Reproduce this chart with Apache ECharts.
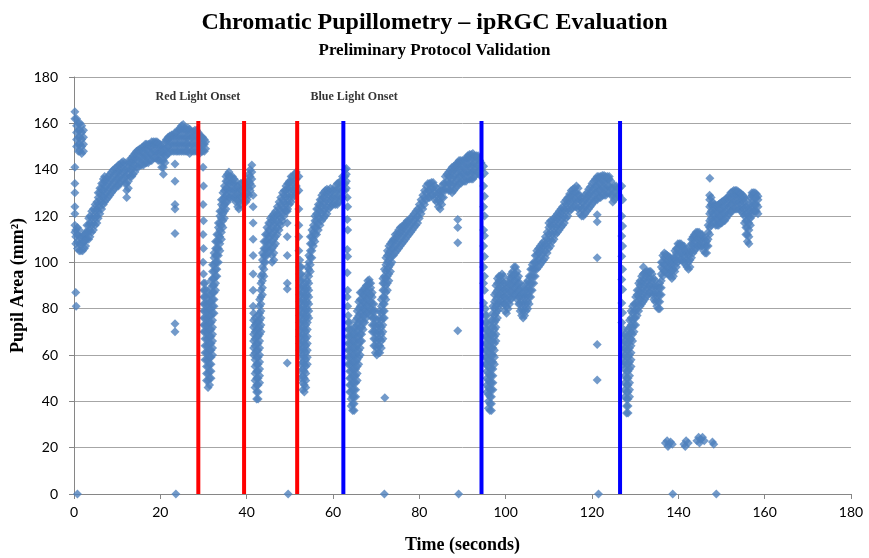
<!DOCTYPE html>
<html>
<head>
<meta charset="utf-8">
<script src="https://cdn.jsdelivr.net/npm/echarts@6/dist/echarts.min.js"></script>
<style>html,body{margin:0;padding:0;background:#fff}#c{width:869px;height:558px}</style>
</head>
<body>
<div id="c"></div>
<script>
// ---------------- DATA ----------------
// each entry: [time (s), [pupil area values (mm²) observed at that time]]
const xTicks = { min: 0, max: 180, step: 20 };
const yTicks = { min: 0, max: 180, step: 20 };

const redOnsets = [28.8, 39.4, 51.7];
const blueOnsets = [62.4, 94.4, 126.5];
const onsetLineTop = 161;
const annotations = [['Red Light Onset', 28.7, 171.5], ['Blue Light Onset', 64.9, 171.5]];

const initialPhase = [
  [0.2,[165,162,141,134,130,124,121,116,113]],[0.4,[87,108,111,114]],[0.5,[81]],
  [0.6,[150,153,156,159,162]],[0.8,[106,109,112,115]],[1.0,[148,151,154,157,160]],[1.2,[105,108,111,114]],
  [1.4,[148,151,154,157,160]],[1.6,[105,108,111]],[1.8,[147,150,153,156,159]],[2.0,[105,108,111]],
  [2.2,[148,151,154,157]],[2.4,[106,109,112]],[2.7,[107,110,113]]
];
const adaptationRise = [
  [3.0,[110,113,116]],[3.4,[110,113,116,119]],[3.7,[111,114,117,120]],[4.1,[113,116,119,122]],[4.5,[114,117,120,123]],
  [4.9,[116,119,122,125]],[5.3,[117,120,123,126]],[5.6,[119,122,125,128,130]],[6.0,[121,124,127,130,132]],
  [6.4,[123,126,129,132,134]],[6.8,[125,128,131,134,136]],[7.1,[126,129,132,135,137]],[7.5,[127,130,133,136]],
  [7.9,[128,131,134,137]],[8.3,[129,132,135,138]],[8.7,[130,133,136,139]],[9.1,[131,134,137,140]],
  [9.5,[132,135,138,140.5]],[9.9,[133,136,139,141]],[10.3,[133,136,139,142]],[10.6,[134,137,140,142]],
  [11.0,[135,138,141,143]],[11.4,[136,139,142,143.5]],[11.8,[134,137,140,143]],[12.2,[128,131,134,137,140]],
  [12.6,[132,135,138,141,143]],[13.0,[137,140,143,144.5]],[13.4,[137,140,143,145]],[13.7,[138,141,144,146]],
  [14.1,[139,142,145,147]],[14.5,[141,144,147,148]],[14.9,[141,144,147,148.5]],[15.3,[142,145,148,149]],
  [15.7,[142,145,148,149.5]],[16.1,[142,145,148,150]],[16.5,[143,146,149,151]],[16.8,[143,146,149,151]],
  [17.2,[143,146,149,151]],[17.6,[144,147,150,151]],[18.0,[144,147,150,152]],[18.4,[145,148,151,152]],
  [18.8,[145,148,151,152]],[19.2,[145,148,151,152]],[19.5,[144,147,150,151.5]],[19.9,[144,147,150,151]],
  [20.3,[141,144,147,150]],[20.7,[138,141,144,147,149]],[21.1,[143,146,149,152]],[21.4,[146,149,152,153]],
  [21.8,[147,150,153,154]],[22.2,[148,151,154,154.5]],[22.6,[148,151,154,155]],[23.0,[148,151,154,155]],
  [23.4,[148,151,154,156]],[23.8,[148,151,154,156]],[24.1,[148,151,154,157]],[24.5,[148,151,154,157,158]],
  [24.9,[148,151,154,157,159]],[25.3,[148,151,154,157,159.5]],[25.7,[148,151,154,157,158]],[26.0,[148,151,154,157]],
  [26.4,[148,151,154,157,158]],[26.8,[147,150,153,156,157.5]],[27.2,[148,151,154,156]],[27.6,[148,151,154,156.5]],
  [28.0,[148,151,154,157]],[28.4,[148,151,154,157]],[28.8,[148,151,154,156]],[29.1,[147,150,153,155]],
  [29.5,[148,151,154]],[29.8,[148,151,154]],[30.2,[148,151,153]],[30.5,[149,152]]
];
const redResponse1 = [
  [29.9,[141,125,112,100]],[30.0,[133,118,106,95]],
  [30.05,[70,73,76,79,82,85,88,91]],[30.35,[58,61,64,67,70,73,76,79,82,85,88,91]],
  [30.7,[49,52,55,58,61,64,67,70,73,76,79,82,85,88]],[31.05,[46,49,52,55,58,61,64,67,70,73,76,79,82]],
  [31.4,[47,50,53,56,59,62,65,68,71,74,77,80,83,86]],[31.75,[50,53,56,59,62,65,68,71,74,77,80,83,86,89,92]],
  [32.1,[60,63,66,69,72,75,78,81,84,87,90,93,96,99]],[32.45,[78,81,84,87,90,93,96,99,102,104]],
  [32.8,[88,91,94,97,100,103,106,109]],[33.1,[94,97,100,103,106,109,112]],[33.45,[100,103,106,109,112,115,117]],
  [33.8,[105,108,111,114,117,120,122]],[34.15,[110,113,116,119,122,125,127]],[34.5,[115,118,121,124,127,130]],
  [34.85,[119,122,125,128,131,133]],[35.2,[123,126,129,132,135,137]],[35.55,[126,129,132,135,138]],
  [35.9,[128,131,134,137,139]],[36.3,[128,131,134,137]],[36.7,[128,131,134,137]],[37.1,[128,131,134,136]],
  [37.5,[126,129,132,135]],[37.9,[124,127,130,133]],[38.2,[123,126,129,132]],[38.6,[125,128,131,134]],
  [39.0,[128,131,134]],[39.4,[129,132,135]]
];
const redResponse2 = [
  [39.8,[126,129,132,134]],[40.1,[127,130,133,135]],[40.5,[129,132,135,138]],[40.8,[131,134,137,140]],
  [41.2,[133,136,139,142]],[41.5,[129,124,117,110,103,95,88,81]],
  [41.6,[60,63,66,69,72,75,78]],[41.95,[46,49,52,55,58,61,64,67,70,73,76]],
  [42.3,[41,44,47,50,53,56,59,62,65,68,71,74]],[42.65,[41,44,47,50,53,56,59,62,65,68,71,74,77]],
  [43.0,[48,51,54,57,60,63,66,69,72,75,78,81,84]],[43.3,[70,73,76,79,82,85,88,91,94]],
  [43.65,[86,89,92,95,98,101,104]],[44.0,[94,97,100,103,106,109]],[44.35,[100,103,106,109,112]],
  [44.7,[103,106,109,112,115]],[45.1,[105,108,111,114,117]],[45.5,[105,108,111,114,117,119]],
  [45.9,[100,103,106,109,112,115,118,120]],[46.3,[101,104,107,110,113,116,119,121]],[46.7,[108,111,114,117,120,122]],
  [47.1,[112,115,118,121,124]],[47.5,[114,117,120,123,126]],[47.9,[116,119,122,125,128]],[48.3,[118,121,124,127,130]],
  [48.7,[120,123,126,129,131]],[49.1,[122,125,128,131,133]],[49.5,[123,126,129,132,134]],[49.9,[125,128,131,134,135]],
  [50.3,[126,129,132,135,137]],[50.7,[128,131,134,137]],[51.1,[129,132,135,138]],[51.5,[130,133,136,139]]
];
const redResponse3 = [
  [52.1,[137,131,123,116,111,105]],
  [52.3,[62,65,68,71,74,77,80,83,86,89,92,95,98,101]],[52.65,[50,53,56,59,62,65,68,71,74,77,80,83,86,89,92,95,98]],
  [53.0,[45,48,51,54,57,60,63,66,69,72,75,78,81,84,87,90,93]],[53.35,[44,47,50,53,56,59,62,65,68,71,74,77,80,83,86,89]],
  [53.7,[46,49,52,55,58,61,64,67,70,73,76,79,82,85,88,91]],[54.05,[56,59,62,65,68,71,74,77,80,83,86,89,92,95,98]],
  [54.4,[76,79,82,85,88,91,94,97,100,103]],[54.75,[96,99,102,105,108,111]],[55.1,[102,105,108,111,114]],
  [55.45,[107,110,113,116]],[55.8,[109,112,115,118,120]],[56.2,[112,115,118,121,123]],[56.6,[114,117,120,123,125]],
  [57.0,[116,119,122,125,127]],[57.4,[118,121,124,127,129]],[57.8,[119,122,125,128,130]],[58.2,[120,123,126,129,131]],
  [58.6,[121,124,127,130,131.5]],[59.0,[123,126,129,131]],[59.4,[124,127,130,132]],[59.8,[125,128,131]],
  [60.2,[125,128,131]],[60.6,[125,128,131,133]],[61.0,[125,128,131,134]],[61.4,[126,129,132,134.5]],
  [61.8,[127,130,133,135]],[62.2,[128,131,134,137]]
];
const blueResponse1 = [
  [62.8,[131,134,137,140]],[63.1,[132,135,138,140.5]],
  [63.3,[128,118.5,105.5,95.5,85]],[63.4,[124,114,102.5,88,81]],
  [63.5,[56,59,62,65,68,71,74,77]],[63.85,[44,47,50,53,56,59,62,65,68,71,74]],
  [64.2,[38,41,44,47,50,53,56,59,62,65,68,71]],[64.55,[36,39,42,45,48,51,54,57,60,63,66,69]],
  [64.9,[36,39,42,45,48,51,54,57,60,63,66,69,72]],[65.25,[42,45,48,51,54,57,60,63,66,69,72,75]],
  [65.6,[49,52,55,58,61,64,67,70,73,76,79]],[65.95,[56,59,62,65,68,71,74,77,80,83]],
  [66.3,[60,63,66,69,72,75,78,81,84,87]],[66.65,[66,69,72,75,78,81,84,87]],[67.0,[71,74,77,80,83,86,88]],
  [67.35,[74,77,80,83,86,89]],[67.7,[76,79,82,85,88,90]],[68.05,[78,81,84,87,90,92]],[68.4,[79,82,85,88,91,92.5]],
  [68.75,[77,80,83,86,89,91]],[69.1,[70,73,76,79,82,85,87]],[69.45,[64,67,70,73,76,79,82]],
  [69.8,[61,64,67,70,73,76,79]],[70.15,[60,63,66,69,72,75]],[70.5,[61,64,67,70,73]],[70.85,[61,64,67,70,73,76,79]],
  [71.2,[63,66,69,72,75,78,81,84]],[71.55,[67,70,73,76,79,82,85,88,91,93]],[71.9,[76,79,82,85,88,91,94,97]],
  [72.25,[84,87,90,93,96,99,102]],[72.6,[88,91,94,97,100,103,105]],[72.95,[92,95,98,101,104,107]],
  [73.3,[96,99,102,105,108]],[73.65,[100,103,106,109]],[74.0,[103,106,109,110]],[74.4,[104,107,110,112]],
  [74.8,[105,108,111,112.5]],[75.2,[106,109,112,114]],[75.6,[107,110,113,115]],[76.0,[108,111,114,115.5]],
  [76.4,[109,112,115,116]],[76.8,[110,113,116,117]],[77.2,[111,114,117,118]],[77.6,[112,115,118]],
  [78.0,[113,116,119]],[78.4,[114,117,120]],[78.8,[115,118,121]],[79.2,[116,119,122]],[79.6,[117,120,123]],
  [80.0,[119,122,125]],[80.4,[121,124,127]],[80.8,[123,126,129]],[81.2,[125,128,131]],[81.6,[127,130,133]],
  [82.0,[128,131,134]],[82.4,[128,131,134]],[82.8,[129,132,134.5]],[83.2,[129,132,134.5]],[83.6,[127,130,133]],
  [84.0,[126,129,132]],[84.4,[124,127,130]],[84.8,[123,126,129,131]],[85.2,[125,128,131,133]],[85.6,[128,131,134]],
  [86.0,[131,134,137]],[86.4,[132,135,138]],[86.8,[131,134,137,139]],[87.2,[131,134,137,140]],
  [87.6,[130,133,136,139,141]],[88.0,[131,134,137,140,141.5]],[88.4,[132,135,138,141,142]],
  [88.8,[133,136,139,142,143]],[89.2,[134,137,140,143,144]],[89.6,[134,137,140,143,144]],[90.0,[135,138,141,144]],
  [90.4,[135,138,141,144]],[90.8,[135,138,141,144,145]],[91.2,[136,139,142,145,146]],[91.6,[136,139,142,145,146.5]],
  [92.0,[136,139,142,145,146.5]],[92.4,[136,139,142,145,147]],[92.8,[137,140,143,146]],[93.2,[138,141,144,146]],
  [93.6,[139,142,145,146]],[94.0,[138,141,144]],[94.3,[137,140,143]]
];
const blueResponse2 = [
  [94.9,[141.5,133,124,114,107,98,91,82.5]],[95.1,[138.5,128.5,120,111.5,102.5,94,88]],
  [95.3,[56,59,62,65,68,71,74,77,80]],[95.65,[44,47,50,53,56,59,62,65,68,71,74,77]],
  [96.0,[37,40,43,46,49,52,55,58,61,64,67,70,73]],[96.35,[36,39,42,45,48,51,54,57,60,63,66,69]],
  [96.7,[36,39,42,45,48,51,54,57,60,63,66,69,72,75]],[97.05,[45,48,51,54,57,60,63,66,69,72,75,78,81]],
  [97.4,[56,59,62,65,68,71,74,77,80,83,86]],[97.75,[66,69,72,75,78,81,84,87,90]],[98.1,[76,79,82,85,88,91,93]],
  [98.45,[80,83,86,89,92,94]],[98.8,[82,85,88,91,94]],[99.15,[83,86,89,92,95]],[99.5,[82,85,88,91,94]],
  [99.85,[79,82,85,88,91]],[100.2,[78,81,84,87,89]],[100.55,[80,83,86,89,91]],[100.9,[82,85,88,91,93]],
  [101.25,[84,87,90,93,95]],[101.6,[85,88,91,94,96]],[101.95,[86,89,92,95,98]],[102.3,[86,89,92,95,98]],
  [102.65,[84,87,90,93,96]],[103.0,[82,85,88,91,94]],[103.35,[79,82,85,88,91]],[103.7,[77,80,83,86,89]],
  [104.05,[76,79,82,85,87]],[104.4,[77,80,83,86,89]],[104.75,[79,82,85,88,91]],[105.1,[80,83,86,89,92]],
  [105.45,[82,85,88,91,94]],[105.8,[85,88,91,94,97]],[106.15,[88,91,94,97,99]],[106.5,[91,94,97,100]],
  [106.85,[94,97,100,103]],[107.2,[97,100,103,105]],[107.6,[98,101,104,106]],[108.0,[99,102,105,107]],
  [108.4,[100,103,106,108]],[108.8,[101,104,107,109]],[109.2,[102,105,108,111]],[109.6,[104,107,110,113]],
  [110.0,[106,109,112,115,117]],[110.4,[107,110,113,116,118]],[110.8,[109,112,115,118]],[111.2,[110,113,116,119]],
  [111.6,[112,115,118,120]],[112.0,[113,116,119,121]],[112.4,[114,117,120,122]],[112.8,[115,118,121,123]],
  [113.2,[116,119,122,124]],[113.6,[117,120,123,126]],[114.0,[119,122,125,127]],[114.4,[120,123,126,128]],
  [114.8,[122,125,128,129.5]],[115.2,[123,126,129,131]],[115.6,[124,127,130,131.5]],[116.0,[124,127,130,132]],
  [116.4,[124,127,130,133]],[116.8,[123,126,129,132]],[117.2,[121,124,127,129]],[117.6,[120,123,126,128]],
  [118.0,[120,123,126]],[118.4,[121,124,127,129]],[118.8,[122,125,128,130]],[119.2,[123,126,129,131.5]],
  [119.6,[124,127,130,132.5]],[120.0,[125,128,131,134]],[120.4,[126,129,132,135]],[120.8,[127,130,133,136]],
  [121.2,[127,130,133,136,137]],[121.6,[128,131,134,137]],[122.0,[128,131,134,137]],[122.4,[129,132,135,137.5]],
  [122.8,[129,132,135,137.5]],[123.2,[129,132,135,137]],[123.6,[130,133,136,137]],[124.0,[130,133,136,137]],
  [124.4,[129,132,135]],[124.8,[126,129,132]],[125.2,[127,130,133]],[125.6,[128,131,133]],[126.0,[129,132]],
  [126.3,[129,132]]
];
const blueResponse3 = [
  [126.9,[133,120,111.4,102.6,92.6,82.5,74]],[127.1,[127,115.7,107,97,88.3,78.2]],
  [127.3,[56,59,62,65,68,71]],[127.65,[42,45,48,51,54,57,60,63,66,69]],
  [128.0,[35,38,41,44,47,50,53,56,59,62,65,68]],[128.35,[35,38,41,44,47,50,53,56,59,62,65,68,71]],
  [128.7,[42,45,48,51,54,57,60,63,66,69,72,75]],[129.05,[55,58,61,64,67,70,73,76,79]],
  [129.4,[66,69,72,75,78,81]],[129.75,[70,73,76,79,82]],[130.1,[73,76,79,82,85]],[130.45,[77,80,83,86,88]],
  [130.8,[79,82,85,88,91]],[131.15,[81,84,87,90,92]],[131.5,[82,85,88,91,94]],[131.85,[83,86,89,92,95]],
  [132.2,[84,87,90,93,95.5]],[132.55,[85,88,91,94,96]],[132.9,[86,89,92,95,96]],[133.25,[87,90,93,96]],
  [133.6,[87,90,93,96]],[133.95,[86,89,92,95]],[134.3,[84,87,90,93]],[134.65,[83,86,89,92]],[135.0,[81,84,87,90]],
  [135.35,[80,83,86,89]],[135.7,[80,83,86,89,91]],[136.05,[86,89,92,95,98,100]],[136.4,[94,97,100,103]],
  [136.75,[96,99,102,104]],[137.1,[96,99,102,103.5]],[137.45,[95,98,101,103]],[137.8,[95,98,101,102.5]],
  [138.15,[94,97,100,102]],[138.5,[93,96,99,101]],[138.85,[94,97,100,102]],[139.2,[96,99,102,105]],
  [139.55,[98,101,104,106]],[139.9,[100,103,106,108]],[140.25,[101,104,107,108]],[140.6,[101,104,107,108]],
  [140.95,[101,104,107]],[141.3,[100,103,106,107]],[141.65,[99,102,105]],[142.0,[98,101,104]],
  [142.35,[97,100,103,105]],[142.7,[98,101,104,107]],[143.05,[102,105,108,110]],[143.4,[104,107,110,111]],
  [143.75,[105,108,111,112]],[144.1,[106,109,112,113]],[144.45,[107,110,113]],[144.8,[107,110,113]],
  [145.15,[107,110,112]],[145.5,[107,110,112]],[145.85,[105,108,111]],[146.2,[104,107,110]],[146.55,[104,107,109]],
  [146.9,[107,110,113,116]],[147.25,[112,115,118,121,124,127,129]],[147.6,[116,119,122,125,128]],
  [147.95,[118,121,124,126]],[148.3,[117,120,123,125]],[148.65,[116,119,122,124.5]],[149.0,[116,119,122,124.5]],
  [149.35,[116,119,122,125]],[149.7,[117,120,123,125.5]],[150.05,[117,120,123,126]],[150.4,[118,121,124,126.5]],
  [150.75,[118,121,124,127]],[151.1,[119,122,125,127.5]],[151.45,[120,123,126,128]],[151.8,[121,124,127,129]],
  [152.15,[122,125,128,130]],[152.5,[122,125,128,130.5]],[152.85,[123,126,129,131]],[153.2,[123,126,129,131]],
  [153.55,[123,126,129,131]],[153.9,[123,126,129,130.5]],[154.25,[123,126,129,130]],[154.6,[122,125,128,129.5]],
  [154.95,[121,124,127,129]],[155.3,[117,120,123,126,128]],[155.65,[112,115,118,121,124,127]],
  [156.0,[109,112,115,118,121,124]],[156.35,[108,111,114,117,120,123]],[156.7,[116,119,122,125,128]],
  [157.05,[120,123,126,129,130]],[157.4,[122,125,128,130]],[157.75,[122,125,128,130]],[158.1,[122,125,128,129.5]],
  [158.45,[121,124,127,128.5]]
];
const outliers = [
  [23.4,[142.5,135,125,123,112.5,73.5,70]],
  [49.4,[122,117,111,103,91,88.5,56.5]],
  [72.0,[41.5]],
  [88.9,[118.5,115,108.5,70.5]],
  [121.2,[120.5,117.5,102,64.5,49.2]],
  [131.9,[98]],[147.3,[136.3]]
];
const lowCluster = [
  [137.0,[22]],[137.4,[23]],[137.6,[20.5]],[137.8,[21.5]],[138.2,[22.5]],[138.6,[21.5]],
  [141.3,[21.5]],[141.6,[20.5]],[141.8,[23]],[142.3,[22]],
  [144.3,[23]],[144.7,[24.5]],[144.9,[22]],[145.2,[23.5]],[145.6,[24.5]],[146.0,[23]],
  [147.9,[22.5]],[148.2,[21.5]]
];
const dropouts = [[0.8,[0]],[23.6,[0]],[49.6,[0]],[71.9,[0]],[89.1,[0]],[121.5,[0]],[138.7,[0]],[148.8,[0]]];

// ---------------- CHART ----------------
function flatten(groups) {
  const out = [];
  groups.forEach(g => g[1].forEach(v => out.push([g[0], v])));
  return out;
}
const pupilPoints = [].concat(
  flatten(initialPhase), flatten(adaptationRise),
  flatten(redResponse1), flatten(redResponse2), flatten(redResponse3),
  flatten(blueResponse1), flatten(blueResponse2), flatten(blueResponse3),
  flatten(outliers), flatten(lowCluster), flatten(dropouts)
);

const serif = '"Liberation Serif", "DejaVu Serif", serif';
const sans = 'Lato, "Liberation Sans", sans-serif';
const axisGrey = '#868686';

const onsetSeries = [];
redOnsets.forEach(t => onsetSeries.push({
  type: 'line', data: [[t, 0], [t, onsetLineTop]], symbol: 'none', silent: true, z: 5,
  lineStyle: { color: '#FF0000', width: 4 }
}));
blueOnsets.forEach(t => onsetSeries.push({
  type: 'line', data: [[t, 0], [t, onsetLineTop]], symbol: 'none', silent: true, z: 5,
  lineStyle: { color: '#0000FF', width: 4 }
}));

const chart = echarts.init(document.getElementById('c'), null, { renderer: 'canvas' });
chart.setOption({
  animation: false,
  backgroundColor: '#fff',
  title: [
    { text: 'Chromatic Pupillometry – ipRGC Evaluation', left: 'center', top: 6,
      textStyle: { fontFamily: serif, fontWeight: 'bold', fontSize: 24, color: '#000' } },
    { text: 'Preliminary Protocol Validation', left: 'center', top: 37,
      textStyle: { fontFamily: serif, fontWeight: 'bold', fontSize: 17, color: '#000' } }
  ],
  grid: { left: 74, right: 18, top: 77, bottom: 64, containLabel: false, outerBoundsMode: 'none' },
  xAxis: {
    type: 'value', min: xTicks.min, max: xTicks.max, interval: xTicks.step,
    name: 'Time (seconds)', nameLocation: 'middle', nameGap: 42, nameMoveOverlap: false,
    nameTextStyle: { fontFamily: serif, fontWeight: 'bold', fontSize: 18, color: '#000' },
    axisLine: { show: true, onZero: false, lineStyle: { color: axisGrey, width: 1 } },
    axisTick: { show: true, inside: false, length: 5, lineStyle: { color: axisGrey } },
    axisLabel: { fontFamily: sans, fontSize: 14, color: '#000', margin: 11 },
    splitLine: { show: false }
  },
  yAxis: {
    type: 'value', min: yTicks.min, max: yTicks.max, interval: yTicks.step,
    name: 'Pupil Area (mm²)', nameLocation: 'middle', nameGap: 47, nameRotate: 90, nameMoveOverlap: false,
    nameTextStyle: { fontFamily: serif, fontWeight: 'bold', fontSize: 18, color: '#000' },
    axisLine: { show: true, lineStyle: { color: axisGrey, width: 1 } },
    axisTick: { show: true, inside: false, length: 5, lineStyle: { color: axisGrey } },
    axisLabel: { fontFamily: sans, fontSize: 14, color: '#000', margin: 16 },
    splitLine: { show: true, lineStyle: { color: '#a6a6a6', width: 1 } }
  },
  series: [
    {
      type: 'scatter', name: 'Pupil Area', data: pupilPoints, symbol: 'diamond', symbolSize: 9,
      itemStyle: { color: '#4F81BD' }, clip: false, silent: true, z: 2, large: false
    },
    ...onsetSeries,
    {
      type: 'scatter', data: annotations.map(a => ({ name: a[0], value: [a[1], a[2]] })),
      symbolSize: 0, silent: true, z: 6,
      label: { show: true, position: 'inside', formatter: p => p.name,
        fontFamily: serif, fontWeight: 'bold', fontSize: 12, color: '#000' }
    }
  ]
});
</script>
</body>
</html>
